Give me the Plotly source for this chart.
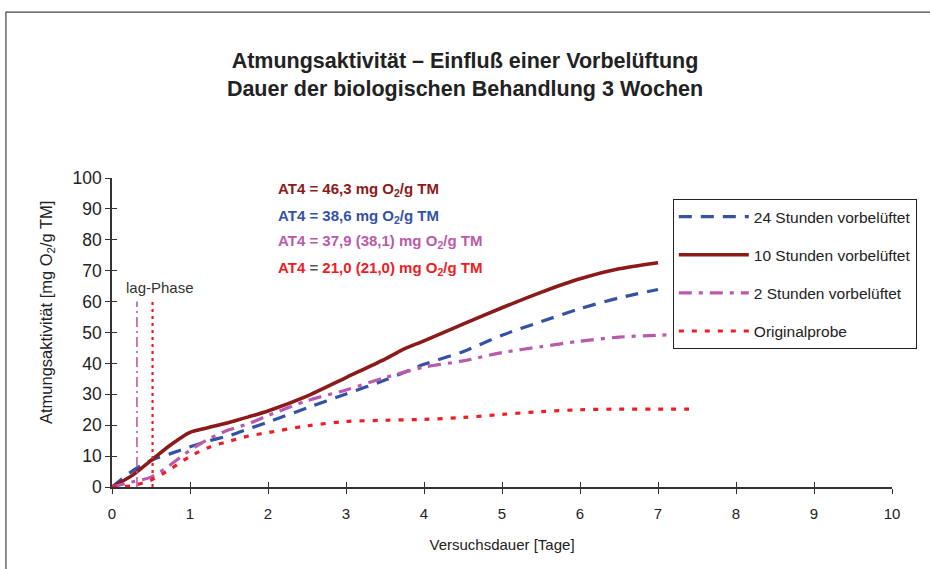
import plotly.graph_objects as go

# ---- data ----
days = [0, 0.25, 0.5, 0.75, 1.0, 1.25, 1.5, 1.75, 2.0, 2.5, 3.0, 3.5, 3.65, 3.72, 4.0, 4.5, 5.0, 5.5, 6.0, 6.5, 7.0]
h10 = [0, 3.6, 8.6, 13.6, 17.7, 19.3, 20.9, 22.7, 24.6, 29.4, 35.4, 41.4, 43.4, 44.4, 47.3, 52.7, 58.0, 63.0, 67.4, 70.6, 72.6]
days24 = [0, 0.25, 0.5, 0.75, 1.0, 1.25, 1.5, 1.75, 2.0, 2.5, 3.0, 3.5, 4.0, 4.5, 5.0, 5.5, 6.0, 6.5, 7.0]
h24 = [0, 5.0, 8.6, 10.8, 13.0, 15.0, 16.6, 18.8, 21.0, 25.6, 30.1, 34.6, 39.7, 43.8, 49.1, 53.5, 57.7, 61.2, 63.9]
days2 = [0, 0.25, 0.5, 0.75, 1.0, 1.25, 1.5, 1.75, 2.0, 2.5, 3.0, 3.5, 4.0, 4.5, 5.0, 5.5, 6.0, 6.5, 7.0, 7.2]
h2 = [0, 1.6, 3.2, 7.2, 11.9, 15.7, 18.5, 20.5, 23.1, 27.9, 31.4, 35.4, 38.8, 40.8, 43.5, 45.4, 47.2, 48.5, 49.1, 49.3]
days0 = [0, 0.25, 0.5, 0.75, 1.0, 1.25, 1.5, 1.75, 2.0, 2.5, 3.0, 3.5, 4.0, 4.5, 5.0, 5.5, 6.0, 6.5, 7.0, 7.5]
orig = [0, 0.4, 2.2, 5.8, 9.9, 12.9, 14.8, 16.5, 17.6, 19.8, 21.2, 21.6, 21.9, 22.5, 23.5, 24.4, 25.0, 25.2, 25.2, 25.2]
lag_magenta_x = [0.32, 0.32]
lag_red_x = [0.52, 0.52]
lag_y = [0, 60]
x_ticks = list(range(0, 11))
y_ticks = list(range(0, 101, 10))

c10 = "#8B1A1A"
c24 = "#3452A4"
c2 = "#B95AAC"
c0 = "#EE1C24"

fig = go.Figure()
fig.add_trace(go.Scatter(x=days24, y=h24, mode="lines", name="24 Stunden vorbelüftet",
                         line=dict(color=c24, width=3.2, dash="13px,9px", shape="spline", smoothing=0.8),
                         legendgroup="a"))
fig.add_trace(go.Scatter(x=days, y=h10, mode="lines", name="10 Stunden vorbelüftet",
                         line=dict(color=c10, width=3.6, shape="spline", smoothing=0.6), legendgroup="b"))
fig.add_trace(go.Scatter(x=days2, y=h2, mode="lines", name="2 Stunden vorbelüftet",
                         line=dict(color=c2, width=3.2, dash="13px,7px,4px,7px", shape="spline", smoothing=0.8),
                         legendgroup="c"))
fig.add_trace(go.Scatter(x=days0, y=orig, mode="lines", name="Originalprobe",
                         line=dict(color=c0, width=3.2, dash="5px,8px", shape="spline", smoothing=0.8),
                         legendgroup="d"))
fig.add_trace(go.Scatter(x=lag_magenta_x, y=lag_y, mode="lines", showlegend=False,
                         line=dict(color=c2, width=1.6, dash="10px,4px,2px,4px")))
fig.add_trace(go.Scatter(x=lag_red_x, y=lag_y, mode="lines", showlegend=False,
                         line=dict(color=c0, width=2.2, dash="3px,4px")))

ann = [
    ("AT4 = 46,3 mg O<sub>2</sub>/g TM", c10, 96.4),
    ("AT4 = 38,6 mg O<sub>2</sub>/g TM", c24, 87.7),
    ("AT4 = 37,9 (38,1) mg O<sub>2</sub>/g TM", c2, 79.3),
    ("AT4 <span style='color:#555555'>=</span> 21,0 (21,0) mg O<sub>2</sub>/g TM", c0, 70.6),
]
for txt, col, yy in ann:
    fig.add_annotation(x=2.1, y=yy, xref="x", yref="y", text="<b>" + txt + "</b>",
                       showarrow=False, xanchor="left", yanchor="middle",
                       font=dict(color=col, size=15, family="Liberation Sans"))
fig.add_annotation(x=0.16, y=64.7, xref="x", yref="y", text="lag-Phase", showarrow=False,
                   xanchor="left", yanchor="middle",
                   font=dict(color="#333333", size=15, family="Liberation Sans"))

L, R, T, B = 112, 38, 178, 82
PW, PH = 930 - L - R, 569 - T - B

# y-axis title (placed as annotation to match original position)
fig.add_annotation(x=(47 - L) / PW, y=(569 - B - 313) / PH, xref="paper", yref="paper",
                   text="Atmungsaktivität [mg O<sub>2</sub>/g TM]",
                   showarrow=False, textangle=-90, xanchor="center", yanchor="middle",
                   font=dict(color="#222222", size=16.5, family="Liberation Sans"))

# outer frame
fig.add_shape(type="rect", xref="paper", yref="paper", x0=-0.136, y0=-0.4, x1=1.2, y1=1.537,
              line=dict(color="#444444", width=1.2), fillcolor="rgba(0,0,0,0)", layer="below")

axis_common = dict(showgrid=False, zeroline=False, showline=True, linecolor="#333333", linewidth=1.5,
                   ticks="outside", ticklen=5, tickwidth=1.2, tickcolor="#333333")

fig.update_layout(
    width=930, height=569,
    margin=dict(l=L, r=R, t=T, b=B),
    paper_bgcolor="white", plot_bgcolor="white",
    font=dict(family="Liberation Sans", color="#222222"),
    title=dict(text="<b>Atmungsaktivität – Einfluß einer Vorbelüftung<br>Dauer der biologischen Behandlung 3 Wochen</b>",
               x=0.5, xanchor="center", y=0.88, yanchor="middle",
               font=dict(size=21.5, color="#222222", family="Liberation Sans")),
    xaxis=dict(range=[0, 10], tickvals=x_ticks, tickfont=dict(size=15), ticklabelstandoff=7,
               title=dict(text="Versuchsdauer [Tage]", font=dict(size=15), standoff=19),
               **axis_common),
    yaxis=dict(range=[0, 100], tickvals=y_ticks, tickfont=dict(size=17.5), **axis_common),
    xaxis2=dict(range=[0, 10], overlaying="x", tickvals=x_ticks, showticklabels=False, ticks="inside",
                ticklen=5, tickwidth=1.2, tickcolor="#333333", showgrid=False, zeroline=False, showline=False,
                side="bottom"),
    yaxis2=dict(range=[0, 100], overlaying="y", tickvals=y_ticks, showticklabels=False, ticks="inside",
                ticklen=5, tickwidth=1.2, tickcolor="#333333", showgrid=False, zeroline=False, showline=False,
                side="left"),
    legend=dict(x=0.719, y=0.945 - 4 / PH, xanchor="left", yanchor="top", bgcolor="white",
                bordercolor="#222222", borderwidth=1, font=dict(size=15.5, color="#222222"),
                itemwidth=70, tracegroupgap=15, traceorder="grouped"),
    showlegend=True,
)

# dummy trace to activate overlay axes
fig.add_trace(go.Scatter(x=[None], y=[None], xaxis="x2", yaxis="y2", showlegend=False))

fig.write_html("out.html", config={"displayModeBar": False},
               post_script="document.body.style.margin='0';")
